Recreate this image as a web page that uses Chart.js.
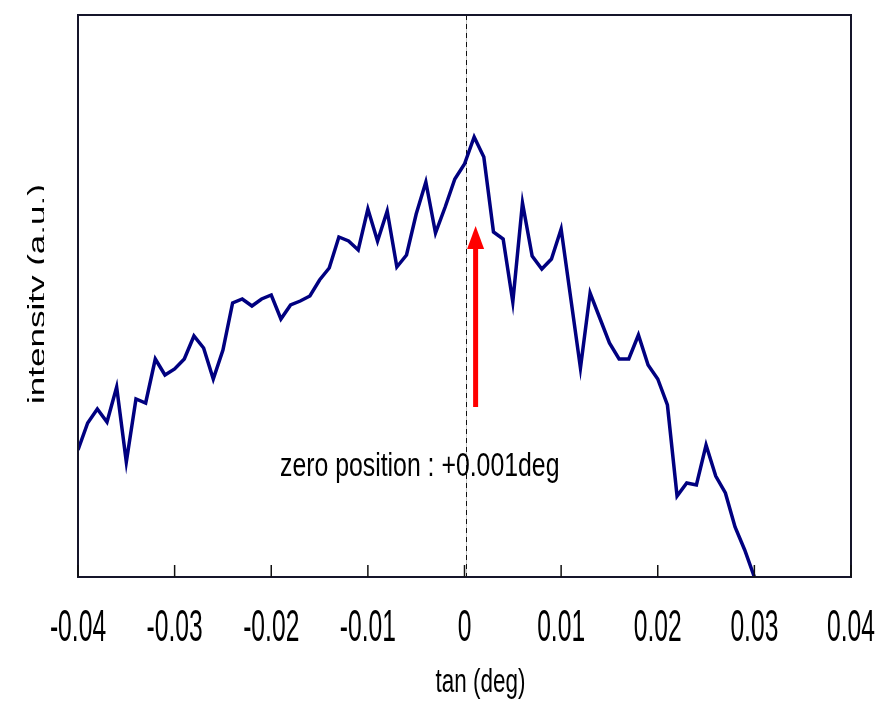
<!DOCTYPE html>
<html>
<head>
<meta charset="utf-8">
<script src="https://cdn.jsdelivr.net/npm/chart.js@4.4.1/dist/chart.umd.min.js"></script>
<style>
  html, body { margin: 0; padding: 0; background: #fff; }
  #wrap { width: 894px; height: 701px; position: relative; }
</style>
</head>
<body>
<div id="wrap"><canvas id="rockingCurve" width="894" height="701"></canvas></div>
<script>
// dados (tan em graus, intensidade em u.a.)
const tanDeg = [
  -0.040, -0.039, -0.038, -0.037, -0.036, -0.035, -0.034, -0.033, -0.032, -0.031,
  -0.030, -0.029, -0.028, -0.027, -0.026, -0.025, -0.024, -0.023, -0.022, -0.021,
  -0.020, -0.019, -0.018, -0.017, -0.016, -0.015, -0.014, -0.013, -0.012, -0.011,
  -0.010, -0.009, -0.008, -0.007, -0.006, -0.005, -0.004, -0.003, -0.002, -0.001,
   0.000,  0.001,  0.002,  0.003,  0.004,  0.005,  0.006,  0.007,  0.008,  0.009,
   0.010,  0.012,  0.013,  0.014,  0.015,  0.016,  0.017,  0.018,  0.019,  0.020,
   0.021,  0.022,  0.023,  0.024,  0.025,  0.026,  0.027,  0.028,  0.029,  0.030
];
const intensity = [
  127, 154, 168, 155, 190, 115, 178, 174, 218, 202,
  208, 218, 241, 229, 198, 227, 274, 278, 271, 278,
  282, 258, 272, 276, 281, 297, 309, 340, 336, 327,
  368, 336, 366, 310, 322, 363, 395, 344, 370, 398,
  413, 440, 420, 345, 338, 275, 374, 321, 308, 318,
  348, 209, 284, 259, 234, 218, 218, 242, 212, 198,
  172,  81,  94,  92, 132, 101,  84,  50,  27,   0
];

const xTickValues = [-0.04, -0.03, -0.02, -0.01, 0, 0.01, 0.02, 0.03, 0.04];
const xTickLabels = ['-0.04', '-0.03', '-0.02', '-0.01', '0', '0.01', '0.02', '0.03', '0.04'];

const zeroLineX = 0.00015;
const arrowX = 0.00115;
const arrowFrom = 170;
const arrowTo = 351;
const arrowHeadBase = 328;
const noteText = 'zero position : +0.001deg';
const xTitle = 'tan (deg)';
const yTitle = 'intensity (a.u.)';

const FONT = '"Liberation Sans", Arial, sans-serif';

// texto comprimido na horizontal, como na figura original
function squishText(ctx, text, x, y, size, sx, align) {
  ctx.save();
  ctx.font = size + 'px ' + FONT;
  ctx.fillStyle = '#000';
  ctx.textBaseline = 'middle';
  ctx.textAlign = align || 'center';
  ctx.translate(x, y);
  ctx.scale(sx, 1);
  ctx.fillText(text, 0, 0);
  ctx.restore();
}

const decorPlugin = {
  id: 'decor',
  beforeDatasetsDraw(chart) {
    const ctx = chart.ctx;
    const xs = chart.scales.x;
    const area = chart.chartArea;
    const px = Math.round(xs.getPixelForValue(zeroLineX)) + 0.5;
    ctx.save();
    ctx.lineWidth = 1;
    ctx.strokeStyle = '#c8c8c8';
    ctx.beginPath();
    ctx.moveTo(px, area.top);
    ctx.lineTo(px, area.bottom);
    ctx.stroke();
    ctx.strokeStyle = '#111';
    ctx.setLineDash([5, 4]);
    ctx.beginPath();
    ctx.moveTo(px, area.top);
    ctx.lineTo(px, area.bottom);
    ctx.stroke();
    ctx.restore();
  },
  afterDraw(chart) {
    const ctx = chart.ctx;
    const xs = chart.scales.x;
    const ys = chart.scales.y;
    const area = chart.chartArea;

    // moldura
    ctx.save();
    ctx.strokeStyle = '#15152a';
    ctx.lineWidth = 2;
    ctx.strokeRect(area.left, area.top, area.right - area.left, area.bottom - area.top);

    // marcas do eixo x (para dentro)
    ctx.lineWidth = 1.5;
    ctx.strokeStyle = '#111';
    xTickValues.forEach(v => {
      const px = xs.getPixelForValue(v);
      ctx.beginPath();
      ctx.moveTo(px, area.bottom);
      ctx.lineTo(px, area.bottom - 12);
      ctx.stroke();
    });
    ctx.restore();

    // rótulos
    xTickValues.forEach((v, i) => {
      squishText(ctx, xTickLabels[i], xs.getPixelForValue(v), area.bottom + 52, 44, 0.56);
    });
    squishText(ctx, xTitle, (area.left + area.right) / 2 + 16, area.bottom + 106, 34, 0.66);

    // título do eixo y (cortado na borda, como no original)
    ctx.save();
    ctx.beginPath();
    ctx.rect(0, 0, 44, chart.height);
    ctx.clip();
    ctx.translate(45, 294);
    ctx.rotate(-Math.PI / 2);
    ctx.scale(1, 0.68);
    ctx.font = '35px ' + FONT;
    ctx.fillStyle = '#000';
    ctx.textAlign = 'center';
    ctx.textBaseline = 'alphabetic';
    ctx.fillText(yTitle, 0, 0);
    ctx.restore();

    // seta vermelha
    const ax = xs.getPixelForValue(arrowX);
    const yFrom = ys.getPixelForValue(arrowFrom);
    const yTo = ys.getPixelForValue(arrowTo);
    const yBase = ys.getPixelForValue(arrowHeadBase);
    ctx.save();
    ctx.fillStyle = '#ff0000';
    ctx.fillRect(ax - 2.5, yBase - 1, 5, yFrom - yBase + 1);
    ctx.beginPath();
    ctx.moveTo(ax, yTo);
    ctx.lineTo(ax + 8.5, yBase);
    ctx.lineTo(ax - 8.5, yBase);
    ctx.closePath();
    ctx.fill();
    ctx.restore();

    // anotação
    squishText(ctx, noteText, 280, 467, 34, 0.73, 'left');
  }
};

document.addEventListener('DOMContentLoaded', function() {
  if (typeof Chart === 'undefined') {
    console.error('Chart.js não carregou');
    return;
  }
  const points = tanDeg.map((t, i) => ({ x: t, y: intensity[i] }));

  new Chart(document.getElementById('rockingCurve'), {
    type: 'line',
    data: {
      datasets: [{
        label: 'intensity',
        data: points,
        borderColor: '#000080',
        borderWidth: 3.5,
        pointRadius: 0,
        tension: 0,
        fill: false,
        borderJoinStyle: 'miter'
      }]
    },
    options: {
      responsive: false,
      animation: false,
      events: [],
      layout: { padding: { left: 78, right: 43, top: 15, bottom: 124 } },
      plugins: {
        legend: { display: false },
        tooltip: { enabled: false }
      },
      scales: {
        x: {
          type: 'linear',
          min: -0.04,
          max: 0.04,
          display: false
        },
        y: {
          min: 0,
          max: 562,
          display: false
        }
      }
    },
    plugins: [decorPlugin]
  });
});
</script>
</body>
</html>
